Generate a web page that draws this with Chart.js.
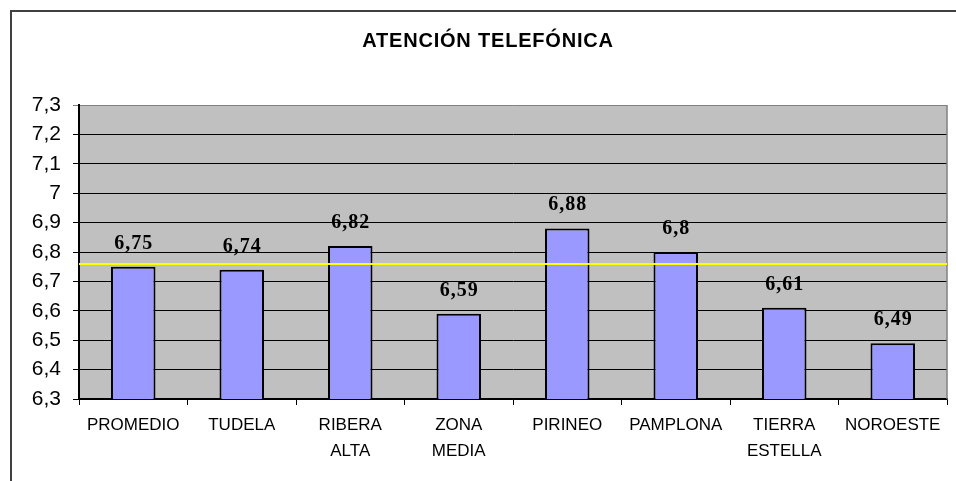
<!DOCTYPE html>
<html>
<head>
<meta charset="utf-8">
<script src="https://cdn.jsdelivr.net/npm/chart.js@4.4.1/dist/chart.umd.min.js"></script>
<style>
  html, body { margin: 0; padding: 0; background: #fff; overflow: hidden; }
  canvas { display: block; }
</style>
</head>
<body>
<canvas id="chart" width="956" height="481"></canvas>
<script>
const titulo = 'ATENCIÓN TELEFÓNICA';
const zonas = [['PROMEDIO'], ['TUDELA'], ['RIBERA', 'ALTA'], ['ZONA', 'MEDIA'], ['PIRINEO'], ['PAMPLONA'], ['TIERRA', 'ESTELLA'], ['NOROESTE']];
const notas = [6.75, 6.74, 6.82, 6.59, 6.88, 6.8, 6.61, 6.49];
const lineaMedia = 6.76;
const yMin = 6.3, yMax = 7.3, yStep = 0.1;

const coma = v => String(Math.round(v * 100) / 100).replace('.', ',');

// white page, outer frame and grey plot area
const fondo = {
  id: 'fondo',
  beforeDraw(chart) {
    const { ctx, chartArea: a } = chart;
    ctx.save();
    ctx.fillStyle = '#fff';
    ctx.fillRect(0, 0, chart.width, chart.height);
    ctx.strokeStyle = '#404040';
    ctx.lineWidth = 2;
    ctx.strokeRect(11, 11, chart.width + 20, chart.height + 20);
    ctx.fillStyle = '#c0c0c0';
    ctx.fillRect(a.left, a.top, a.right - a.left, a.bottom - a.top);
    ctx.restore();
  }
};

// yellow reference line, value labels, title
const extras = {
  id: 'extras',
  afterDatasetsDraw(chart) {
    const { ctx, chartArea: a, scales } = chart;
    ctx.save();
    ctx.strokeStyle = '#808080';
    ctx.lineWidth = 1.5;
    ctx.beginPath();
    ctx.moveTo(a.right, a.top);
    ctx.lineTo(a.right, a.bottom);
    ctx.stroke();

    const yl = Math.round(scales.y.getPixelForValue(lineaMedia));
    ctx.strokeStyle = '#ffff00';
    ctx.lineWidth = 2;
    ctx.beginPath();
    ctx.moveTo(a.left, yl);
    ctx.lineTo(a.right, yl);
    ctx.stroke();

    ctx.fillStyle = '#000';
    ctx.font = 'bold 20px "Liberation Serif", "Times New Roman", serif';
    ctx.letterSpacing = '1px';
    ctx.textAlign = 'center';
    ctx.textBaseline = 'alphabetic';
    chart.getDatasetMeta(0).data.forEach((bar, i) => {
      ctx.fillText(coma(notas[i]), bar.x + 0.5, bar.y - 18);
    });

    ctx.font = 'bold 20px "Liberation Sans", Arial, sans-serif';
    ctx.letterSpacing = '0.8px';
    ctx.textBaseline = 'middle';
    ctx.fillText(titulo, 488, 41);
    ctx.restore();
  }
};

new Chart(document.getElementById('chart'), {
  type: 'bar',
  data: {
    labels: zonas,
    datasets: [{
      data: notas,
      backgroundColor: '#9999ff',
      borderColor: '#000',
      borderWidth: 2,
      borderSkipped: 'bottom',
      categoryPercentage: 1,
      barPercentage: 0.41,
    }],
  },
  options: {
    responsive: false,
    animation: false,
    devicePixelRatio: 1,
    layout: { padding: { top: 105, right: 9, bottom: 0, left: 0 } },
    plugins: {
      legend: { display: false },
      tooltip: { enabled: false },
      title: { display: false },
    },
    scales: {
      x: {
        afterFit(scale) { scale.height = 82; },
        grid: {
          offset: true,
          drawOnChartArea: false,
          drawTicks: true,
          tickLength: 6,
          color: '#000',
        },
        border: { color: '#000', width: 1.5 },
        ticks: {
          color: '#000',
          padding: 7,
          font: { family: '"Liberation Sans", Arial, sans-serif', size: 17, lineHeight: 1.53 },
          maxRotation: 0,
          autoSkip: false,
        },
      },
      y: {
        min: yMin,
        max: yMax,
        afterFit(scale) { scale.width = 79; },
        grid: {
          color: c => (c.tick && c.tick.value > yMax - 0.01 ? '#808080' : '#000'),
          lineWidth: 1,
          tickLength: 6,
        },
        border: { color: '#000', width: 2 },
        ticks: {
          stepSize: yStep,
          color: '#000',
          padding: 12,
          font: { family: '"Liberation Sans", Arial, sans-serif', size: 21 },
          callback: v => coma(v),
        },
      },
    },
  },
  plugins: [fondo, extras],
});
</script>
</body>
</html>
